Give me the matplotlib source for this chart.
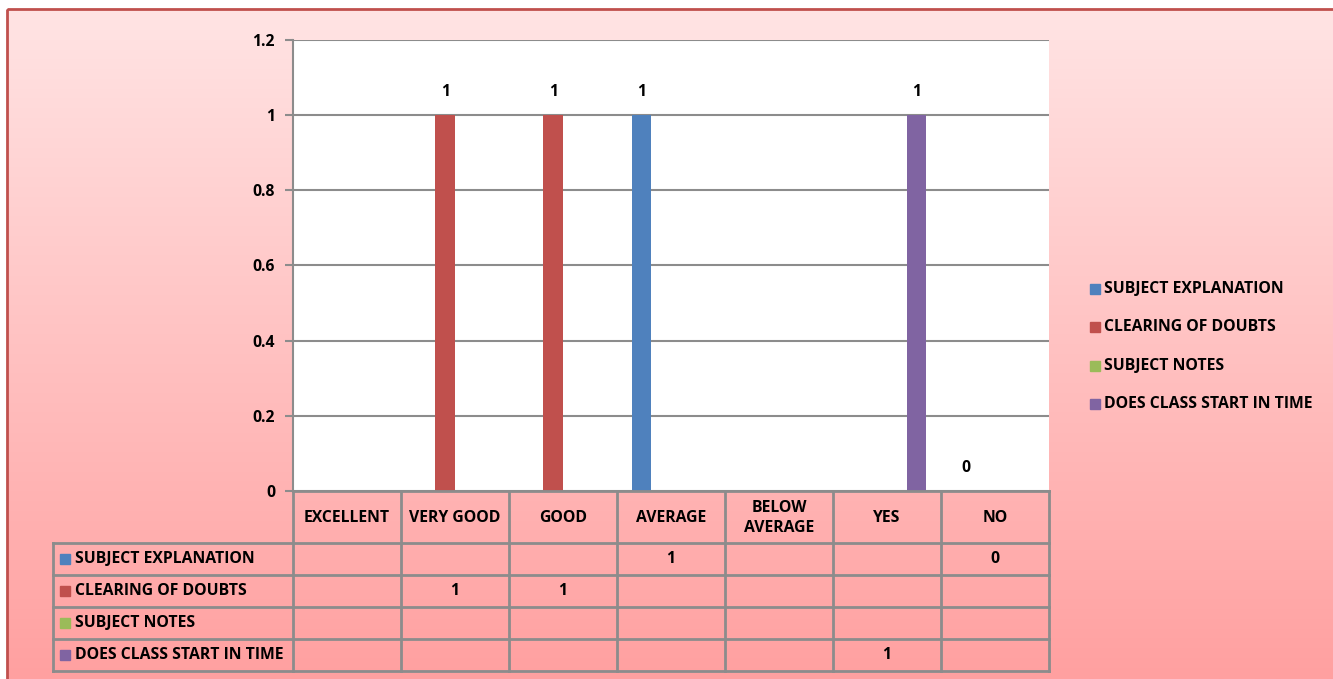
import numpy as np
import matplotlib.pyplot as plt
from matplotlib.patches import Rectangle

plt.rcParams['font.family'] = ['Open Sans', 'DejaVu Sans']
plt.rcParams['font.weight'] = 'bold'

categories = ['EXCELLENT', 'VERY GOOD', 'GOOD', 'AVERAGE', 'BELOW\nAVERAGE', 'YES', 'NO']
series_names = ['SUBJECT EXPLANATION', 'CLEARING OF DOUBTS', 'SUBJECT NOTES',
                'DOES CLASS START IN TIME']
subject_explanation = [None, None, None, 1, None, None, 0]
clearing_of_doubts = [None, 1, 1, None, None, None, None]
subject_notes = [None, None, None, None, None, None, None]
class_start_in_time = [None, None, None, None, None, 1, None]
series_values = [subject_explanation, clearing_of_doubts, subject_notes, class_start_in_time]
colors = ['#4F81BD', '#C0504D', '#9BBB59', '#8064A2']

W, H = 1333, 679
FS = 11.3
GRID = '#8C8C8C'

fig = plt.figure(figsize=(W / 100, H / 100), dpi=100)

# background with pink gradient and frame
bg = fig.add_axes([0, 0, 1, 1], zorder=0)
bg.set_xlim(0, W)
bg.set_ylim(H, 0)
bg.axis('off')
t = np.linspace(0, 1, 256)[:, None, None]
top = np.array([255, 228, 228]) / 255
bot = np.array([255, 160, 160]) / 255
bg.imshow(top + (bot - top) * t, aspect='auto', extent=[7, W, H, 9])
bg.add_patch(Rectangle((7, 9), W, H, fill=False, edgecolor='#C0504D', lw=2))

# plot area
x0, x1, y0, y1 = 293, 1049, 491, 39.6
ax = fig.add_axes([x0 / W, (H - y0) / H, (x1 - x0) / W, (y0 - y1) / H], zorder=2)
ax.set_facecolor('white')
ax.set_xlim(-0.5, len(categories) - 0.5)
ax.set_ylim(0, 1.2)
ticks = np.arange(0, 1.21, 0.2)
ax.set_yticks(ticks)
ax.set_yticklabels(['0', '0.2', '0.4', '0.6', '0.8', '1', '1.2'], fontweight='bold')
ax.set_xticks([])
ax.tick_params(axis='y', length=6, width=1.5, color=GRID, pad=7, labelsize=FS)
ax.yaxis.grid(True, color=GRID, lw=1.5)
ax.set_axisbelow(True)
for s in ['top', 'right', 'bottom']:
    ax.spines[s].set_visible(False)
ax.spines['left'].set_color(GRID)
ax.spines['left'].set_linewidth(1.5)

w = 1 / 5.5
for i, vals in enumerate(series_values):
    idx = [j for j, v in enumerate(vals) if v is not None]
    xs = [j + (i - 1.5) * w for j in idx]
    hs = [vals[j] for j in idx]
    ax.bar(xs, hs, width=w, color=colors[i], zorder=3)
    for x, v in zip(xs, hs):
        ax.annotate(f'{v:g}', (x, v), xytext=(0, 23), textcoords='offset pixels',
                    ha='center', va='center', fontsize=FS, fontweight='bold')

# data table and legend drawn in pixel space
ov = fig.add_axes([0, 0, 1, 1], zorder=3)
ov.set_xlim(0, W)
ov.set_ylim(H, 0)
ov.axis('off')
colw = (x1 - x0) / len(categories)
left = 53
rows = [543, 575, 607, 639, 671]
lk = dict(color=GRID, lw=2, solid_capstyle='projecting')
ov.plot([x0, x1], [y0, y0], **lk)
for r in rows:
    ov.plot([left, x1], [r, r], **lk)
ov.plot([left, left], [rows[0], rows[-1]], **lk)
for k in range(len(categories) + 1):
    xx = x0 + k * colw
    ov.plot([xx, xx], [y0, rows[-1]], **lk)
for k, c in enumerate(categories):
    ov.text(x0 + (k + 0.5) * colw, (y0 + rows[0]) / 2 + 1, c, ha='center', va='center',
            fontsize=FS, fontweight='bold', linespacing=1.3)
for i, (name, vals) in enumerate(zip(series_names, series_values)):
    yc = (rows[i] + rows[i + 1]) / 2
    ov.add_patch(Rectangle((60, yc - 5), 10, 10, color=colors[i]))
    ov.text(75, yc, name, ha='left', va='center', fontsize=FS, fontweight='bold')
    for k, v in enumerate(vals):
        if v is not None:
            ov.text(x0 + (k + 0.5) * colw, yc, f'{v:g}', ha='center', va='center',
                    fontsize=FS, fontweight='bold')

# legend
leg_y = [289, 327, 366, 404]
for i, name in enumerate(series_names):
    ov.add_patch(Rectangle((1090, leg_y[i] - 5), 10, 10, color=colors[i]))
    ov.text(1104, leg_y[i], name, ha='left', va='center', fontsize=FS, fontweight='bold')

fig.savefig('out.png', dpi=100)
